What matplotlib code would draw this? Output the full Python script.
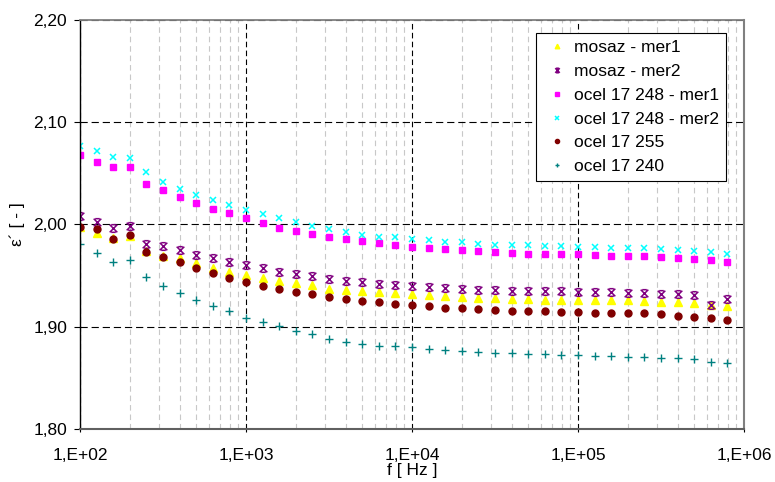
import matplotlib
matplotlib.use("Agg")
import matplotlib.pyplot as plt
from matplotlib.path import Path
from matplotlib.ticker import FixedLocator, NullFormatter

plt.rcParams['font.family'] = ['Liberation Sans', 'DejaVu Sans']

# frekvence [Hz], 10 bodu na dekadu
freq = [100, 126, 158, 200, 251, 316, 398, 501, 631, 794,
        1000, 1259, 1585, 1995, 2512, 3162, 3981, 5012, 6310, 7943,
        10000, 12589, 15849, 19953, 25119, 31623, 39811, 50119, 63096, 79433,
        100000, 125893, 158489, 199526, 251189, 316228, 398107, 501187, 630957, 794328]

mosaz_mer1 = [1.998, 1.992, 1.987, 1.989, 1.974, 1.969, 1.967, 1.962, 1.957, 1.954,
              1.951, 1.948, 1.945, 1.943, 1.941, 1.937, 1.936, 1.935, 1.934, 1.933,
              1.932, 1.931, 1.930, 1.929, 1.928, 1.928, 1.927, 1.927, 1.926, 1.926,
              1.926, 1.926, 1.926, 1.926, 1.925, 1.924, 1.924, 1.923, 1.921, 1.920]
mosaz_mer2 = [2.008, 2.002, 1.997, 1.999, 1.981, 1.979, 1.975, 1.970, 1.967, 1.963,
              1.960, 1.957, 1.954, 1.952, 1.950, 1.947, 1.945, 1.944, 1.942, 1.941,
              1.940, 1.939, 1.938, 1.937, 1.936, 1.936, 1.935, 1.935, 1.935, 1.935,
              1.934, 1.934, 1.934, 1.933, 1.933, 1.932, 1.932, 1.931, 1.921, 1.927]
ocel248_mer1 = [2.068, 2.061, 2.056, 2.056, 2.040, 2.034, 2.027, 2.021, 2.015, 2.011,
                2.006, 2.001, 1.997, 1.994, 1.991, 1.988, 1.986, 1.984, 1.982, 1.980,
                1.978, 1.977, 1.976, 1.975, 1.974, 1.973, 1.972, 1.971, 1.971, 1.971,
                1.971, 1.970, 1.969, 1.969, 1.969, 1.968, 1.967, 1.966, 1.965, 1.963]
ocel248_mer2 = [2.077, 2.072, 2.066, 2.065, 2.051, 2.042, 2.035, 2.029, 2.024, 2.019,
                2.014, 2.010, 2.006, 2.002, 1.999, 1.996, 1.993, 1.990, 1.988, 1.988,
                1.986, 1.985, 1.983, 1.983, 1.981, 1.980, 1.980, 1.980, 1.979, 1.979,
                1.978, 1.978, 1.977, 1.977, 1.977, 1.976, 1.975, 1.974, 1.973, 1.971]
ocel255 = [1.998, 1.996, 1.986, 1.990, 1.973, 1.968, 1.963, 1.957, 1.953, 1.948,
           1.944, 1.940, 1.937, 1.934, 1.932, 1.929, 1.927, 1.925, 1.924, 1.922,
           1.921, 1.920, 1.918, 1.918, 1.917, 1.916, 1.915, 1.915, 1.915, 1.914,
           1.914, 1.913, 1.913, 1.913, 1.913, 1.912, 1.911, 1.910, 1.909, 1.907]
ocel240 = [1.981, 1.972, 1.963, 1.965, 1.949, 1.940, 1.933, 1.926, 1.920, 1.915,
           1.909, 1.905, 1.901, 1.896, 1.893, 1.888, 1.885, 1.883, 1.881, 1.881,
           1.880, 1.878, 1.877, 1.876, 1.875, 1.874, 1.874, 1.873, 1.873, 1.872,
           1.872, 1.871, 1.871, 1.870, 1.870, 1.869, 1.869, 1.868, 1.866, 1.865]

xticks = [1e2, 1e3, 1e4, 1e5, 1e6]
xticklabels = ["1,E+02", "1,E+03", "1,E+04", "1,E+05", "1,E+06"]
yticks = [1.80, 1.90, 2.00, 2.10, 2.20]
yticklabels = ["1,80", "1,90", "2,00", "2,10", "2,20"]

# excelovska hvezdicka: krizek s carkami nahore a dole
star = Path([(-1, -1), (1, 1), (-1, 1), (1, -1), (-0.6, 1), (0.6, 1), (-0.6, -1), (0.6, -1)],
            [Path.MOVETO, Path.LINETO] * 4)

fig = plt.figure(figsize=(7.75, 4.82), dpi=100)
ax = fig.add_axes([80 / 775, 1 - 429 / 482, 664 / 775, 409 / 482])

ax.plot(freq, mosaz_mer1, ls="none", marker="^", ms=5.5, color="#FFFF00", mec="#FFFF00",
        label="mosaz - mer1")
ax.plot(freq, mosaz_mer2, ls="none", marker=star, ms=5.5, mew=1.1, color="#800080",
        label="mosaz - mer2")
ax.plot(freq, ocel248_mer1, ls="none", marker="s", ms=5, color="#FF00FF", mec="#FF00FF",
        label="ocel 17 248 - mer1")
ax.plot(freq, ocel248_mer2, ls="none", marker="x", ms=5, mew=1.1, color="#00FFFF",
        label="ocel 17 248 - mer2")
ax.plot(freq, ocel255, ls="none", marker="o", ms=5, color="#800000", mec="#800000",
        label="ocel 17 255")
ax.plot(freq, ocel240, ls="none", marker="+", ms=5.5, mew=1.0, color="#008080",
        label="ocel 17 240")

ax.set_xscale("log")
ax.set_xlim(1e2, 1e6)
ax.set_ylim(1.80, 2.20)
ax.set_xticks(xticks)
ax.set_xticklabels(xticklabels)
ax.set_yticks(yticks)
ax.set_yticklabels(yticklabels)
ax.xaxis.set_minor_locator(FixedLocator([m * 10 ** e for e in range(2, 6) for m in range(2, 10)]))
ax.xaxis.set_minor_formatter(NullFormatter())

ax.grid(which="minor", axis="x", color="#c8c8c8", lw=0.8, ls=(0, (5, 3.5)))
ax.grid(which="major", axis="x", color="black", lw=0.8, ls=(0, (5, 3)))
ax.grid(which="major", axis="y", color="black", lw=0.8, ls=(0, (6.5, 3.5)))
ax.set_axisbelow(True)

ax.tick_params(axis="both", which="major", labelsize=12.5, width=0.8, color="black")
ax.tick_params(axis="y", which="major", length=4.3, pad=5)
ax.tick_params(axis="x", which="major", length=2.5, pad=11)
ax.tick_params(axis="x", which="minor", length=0)

ax.spines["left"].set_color("black")
ax.spines["left"].set_linewidth(1.0)
ax.spines["bottom"].set_color("#606060")
ax.spines["bottom"].set_linewidth(1.5)
ax.spines["top"].set_color("#808080")
ax.spines["top"].set_linewidth(1.3)
ax.spines["right"].set_color("#808080")
ax.spines["right"].set_linewidth(1.5)

ax.set_xlabel("f [ Hz ]", fontsize=12.5, labelpad=0)
ax.set_ylabel("ε´ [ - ]", fontsize=12.5, labelpad=6)

leg = ax.legend(loc="upper right", bbox_to_anchor=((726 - 80) / 664, (429 - 33) / 409),
                borderaxespad=0, fontsize=12.5, fancybox=False, edgecolor="black",
                framealpha=1, markerscale=0.6, handlelength=1.6, handletextpad=0.2,
                labelspacing=0.5, borderpad=0.4)
leg.get_frame().set_linewidth(0.8)

fig.savefig("out.png", dpi=100)
